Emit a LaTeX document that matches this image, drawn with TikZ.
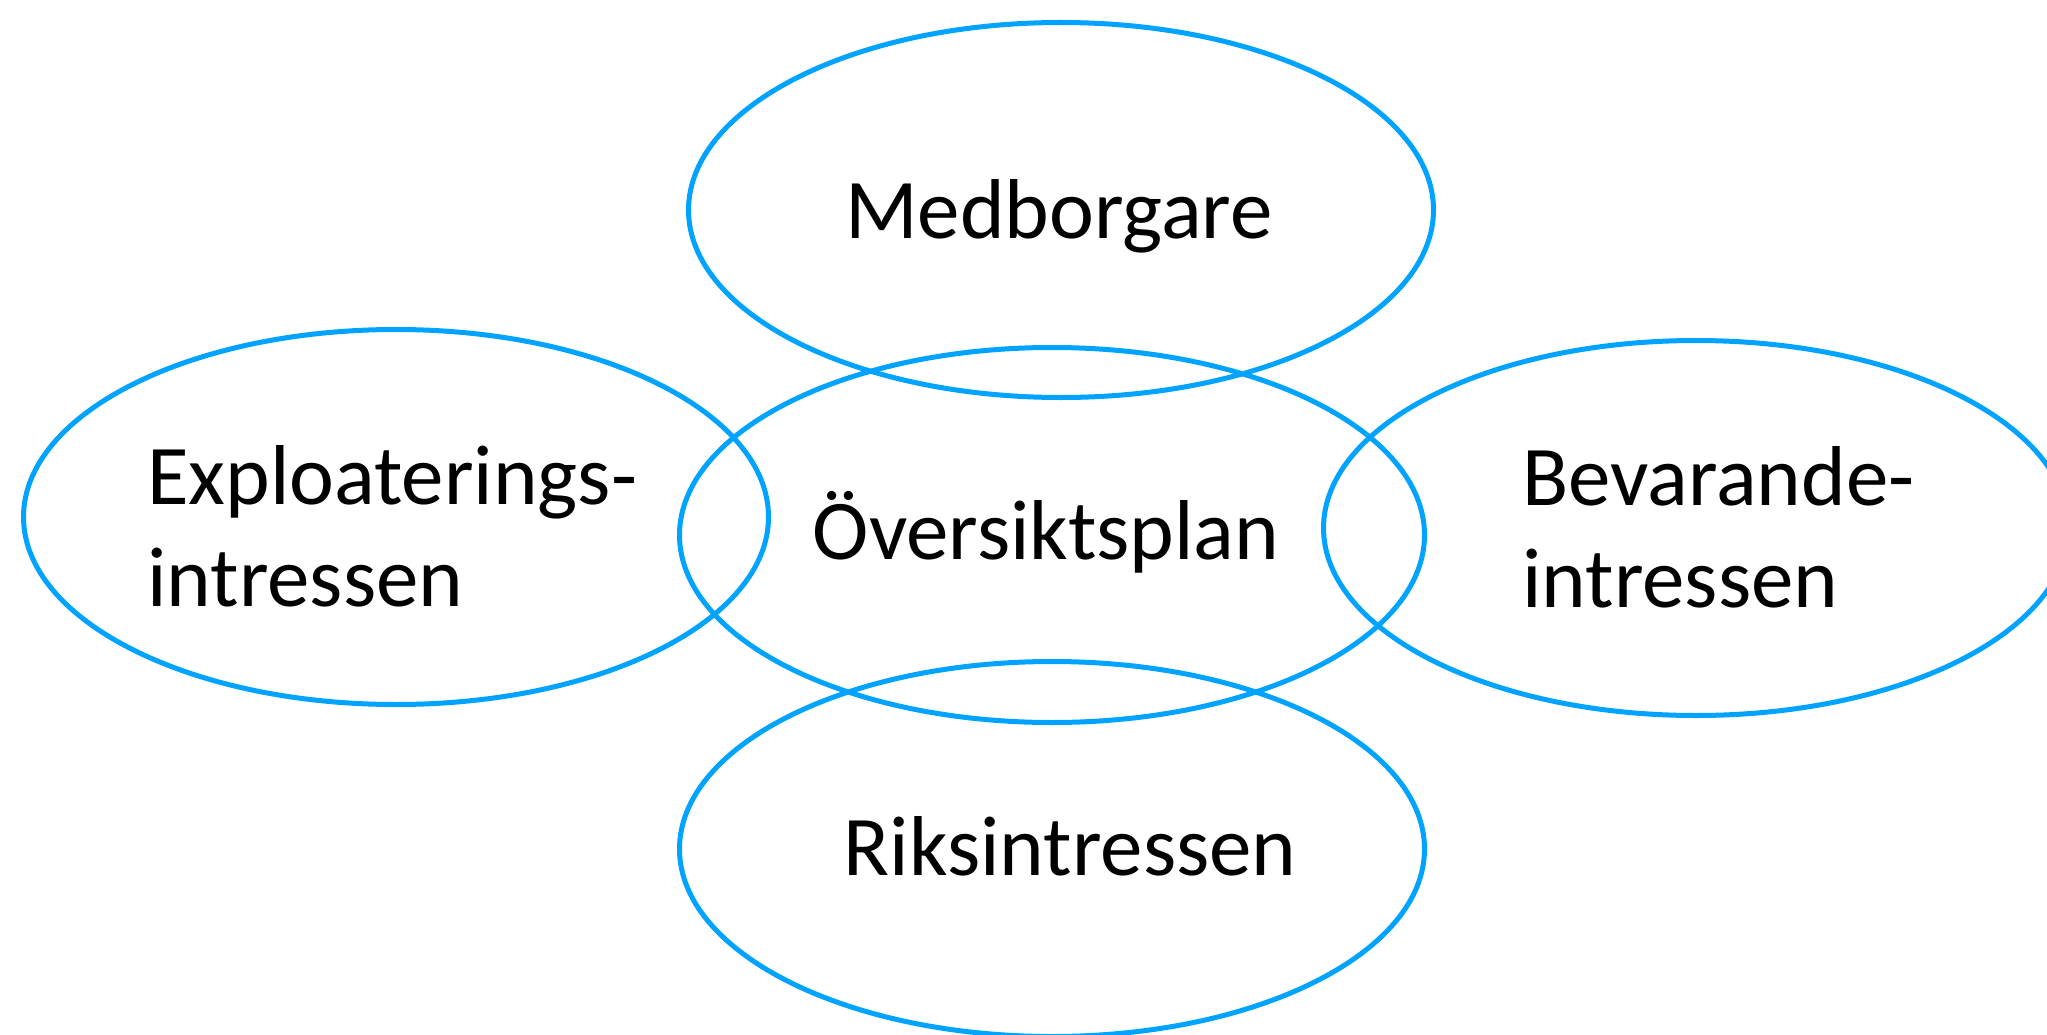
\documentclass[tikz,border=0pt]{standalone}
\usepackage{fontspec}
\setmainfont{Carlito}
\usetikzlibrary{shapes.geometric}
\definecolor{ringblue}{RGB}{0,163,255}
\begin{document}
\begin{tikzpicture}[x=1pt,y=-1pt,
  ring/.style={ellipse, draw=ringblue, line width=5pt, minimum width=745pt, minimum height=375pt, inner sep=0pt},
  lbl/.style={font=\fontsize{85}{102}\selectfont, inner sep=0pt, text=black}]
\useasboundingbox (0,0) rectangle (2047,1035);
\node[ring] (med) at (1061,210) {};
\node[ring] (ovr) at (1052,535) {};
\node[ring] (exp) at (396,517) {};
\node[ring] (bev) at (1696,528) {};
\node[ring] (rik) at (1052,849) {};
\node[lbl, anchor=base] (tmed) at (1059,238) {Medborgare};
\node[lbl, anchor=base] (tovr) at (1046,559) {Översiktsplan};
\node[lbl, anchor=base] (trik) at (1070,875) {Riksintressen};
\node[lbl, anchor=base west, align=left] (texp) at (147,606) {Exploaterings-\\intressen};
\node[lbl, anchor=base west, align=left] (tbev) at (1522,607) {Bevarande-\\intressen};
\end{tikzpicture}
\end{document}
